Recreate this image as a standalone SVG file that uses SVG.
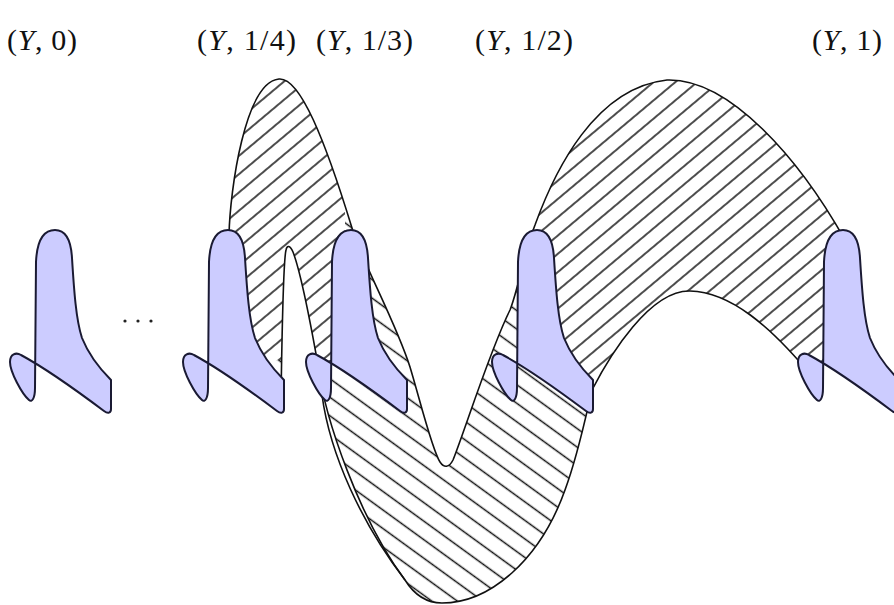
<svg xmlns="http://www.w3.org/2000/svg" width="894" height="605" viewBox="0 0 894 605">
<style>
.lbl{font-family:"Liberation Serif","DejaVu Serif",serif;font-size:30px;fill:#111}
.fib{fill:#ccccff;stroke:#1a1a33;stroke-width:2;stroke-linejoin:round}
.edge{fill:none;stroke:#111;stroke-width:1.6}
.dot{fill:#222}
</style>
<defs>
<pattern id="hatchA" patternUnits="userSpaceOnUse" width="40" height="14" patternTransform="rotate(-40)"><line x1="-1" y1="7" x2="41" y2="7" stroke="#111" stroke-width="1.3"/></pattern>
<pattern id="hatchB" patternUnits="userSpaceOnUse" width="40" height="15" patternTransform="rotate(36)"><line x1="-1" y1="7.5" x2="41" y2="7.5" stroke="#111" stroke-width="1.3"/></pattern>
<clipPath id="clipA"><path d="M0,0 H345 V368 L331,360 H0 Z M517,0 H894 V605 H600 V412 L517,360 Z"/></clipPath>
<clipPath id="clipB"><path d="M345,0 H517 V360 L600,412 V605 H0 V360 H331 L345,368 Z"/></clipPath>
<path id="band" d="M 281,400 L 215,300 L 229,235 C 230,190 245,82 279,79 C 300,77 325,140 352,228 C 362,262 395,320 410,367 C 420,400 432,450 440,462 C 444,468 449,468 453,460 C 465,430 490,350 510,310 C 518,290 525,250 535,225 C 555,170 595,88 667,80 C 730,78 800,160 845,240 L 858,300 L 832,355 L 815,380 C 770,325 730,292 690,291 C 650,290 610,355 592,390 C 585,420 578,455 565,490 C 540,560 490,603 442,603 C 428,603 415,596 405,580 C 360,520 325,420 318,365 C 310,320 300,270 293,252 C 290,245 287,245 286,250 C 283,262 282,330 281,400 Z"/>
<path id="fiber" d="M 55,230 C 44,230 37,240 36,262 L 35,388 C 35,398 32,403 29,400 C 22,394 10,372 10,362 C 10,354 16,352 21,355 C 45,368 80,393 104,411 C 108,414 111,413 111,409 L 111,380 C 104,373 90,358 82,338 C 76,320 74,290 72,258 C 71,240 65,230 55,230 Z"/>
</defs>
<g id="connectors">
<use href="#band" fill="url(#hatchA)" clip-path="url(#clipA)"/>
<use href="#band" fill="url(#hatchB)" clip-path="url(#clipB)"/>
<path class="edge" d="M 229,235 C 230,190 245,82 279,79 C 300,77 325,140 352,228 C 362,262 395,320 410,367 C 420,400 432,450 440,462 C 444,468 449,468 453,460 C 465,430 490,350 510,310 C 518,290 525,250 535,225 C 555,170 595,88 667,80 C 730,78 800,160 845,240"/>
<path class="edge" d="M 281,400 C 282,330 283,262 286,250 C 287,245 290,245 293,252 C 300,270 310,320 318,365 C 325,420 360,520 405,580 C 415,596 428,603 442,603 C 490,603 540,560 565,490 C 578,455 585,420 592,390 C 610,355 650,290 690,291 C 730,292 770,325 815,380"/>
<path class="edge" d="M 322,395 C 330,455 362,524 405,580"/>
</g>
<g id="fiber-0">
<use href="#fiber" class="fib"/>
<text class="lbl" x="7" y="50" textLength="70" lengthAdjust="spacing">(<tspan font-style="italic">Y</tspan>, 0)</text>
</g>
<g id="ellipsis">
<circle class="dot" cx="125" cy="321" r="1.6"/>
<circle class="dot" cx="138" cy="321" r="1.6"/>
<circle class="dot" cx="151" cy="321" r="1.6"/>
</g>
<g id="fiber-quarter">
<use href="#fiber" class="fib" transform="translate(173,0)"/>
<text class="lbl" x="197" y="50" textLength="99" lengthAdjust="spacing">(<tspan font-style="italic">Y</tspan>, 1/4)</text>
</g>
<g id="fiber-third">
<use href="#fiber" class="fib" transform="translate(296,0)"/>
<text class="lbl" x="316" y="50" textLength="97" lengthAdjust="spacing">(<tspan font-style="italic">Y</tspan>, 1/3)</text>
</g>
<g id="fiber-half">
<use href="#fiber" class="fib" transform="translate(482,0)"/>
<text class="lbl" x="475" y="50" textLength="98" lengthAdjust="spacing">(<tspan font-style="italic">Y</tspan>, 1/2)</text>
</g>
<g id="fiber-one">
<use href="#fiber" class="fib" transform="translate(788,0)"/>
<text class="lbl" x="812" y="50" textLength="70" lengthAdjust="spacing">(<tspan font-style="italic">Y</tspan>, 1)</text>
</g>
</svg>
